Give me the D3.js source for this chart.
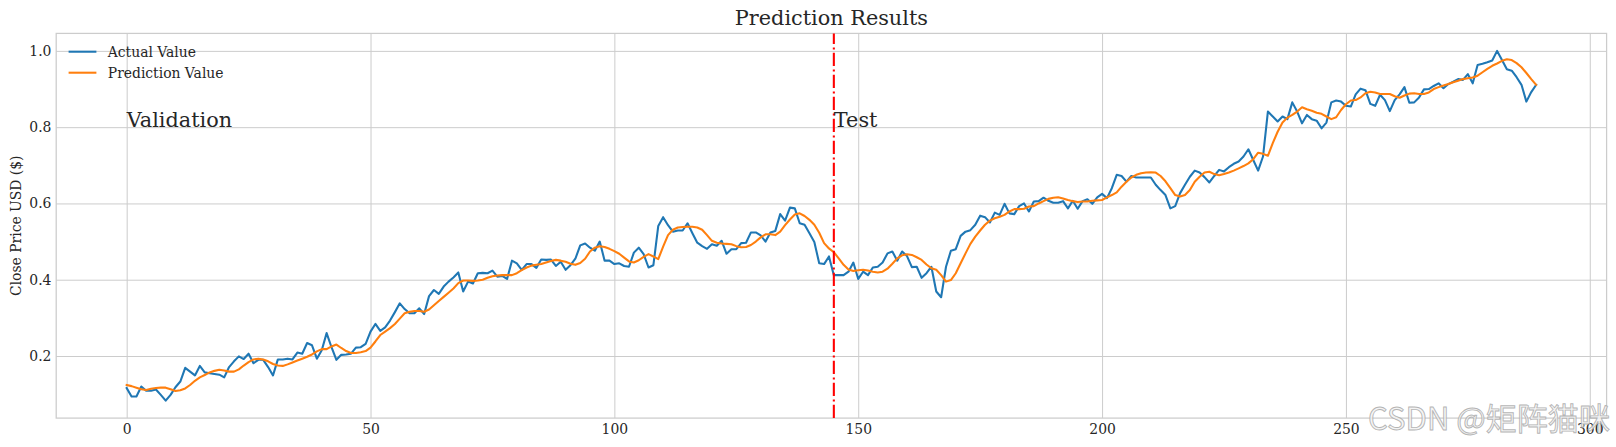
<!DOCTYPE html>
<html><head><meta charset="utf-8">
<script src="https://cdn.jsdelivr.net/npm/d3@7/dist/d3.min.js"></script>
<style>html,body{margin:0;padding:0;background:#fff;} svg{display:block;}</style>
</head><body>
<svg id="chart" width="1616" height="447"></svg>
<script>
const actual = [
0.116,0.094,0.094,0.120,0.109,0.109,0.112,0.098,0.083,0.098,
0.118,0.133,0.169,0.159,0.149,0.174,0.157,0.155,0.153,0.151,
0.144,0.171,0.186,0.199,0.192,0.206,0.181,0.190,0.190,0.171,
0.149,0.191,0.191,0.193,0.191,0.209,0.206,0.234,0.228,0.193,
0.215,0.260,0.223,0.190,0.203,0.204,0.206,0.222,0.223,0.232,
0.264,0.284,0.266,0.275,0.293,0.315,0.338,0.323,0.312,0.312,
0.325,0.310,0.357,0.373,0.363,0.382,0.395,0.406,0.419,0.369,
0.395,0.390,0.417,0.418,0.417,0.424,0.408,0.410,0.402,0.450,
0.443,0.426,0.441,0.441,0.431,0.453,0.452,0.453,0.436,0.447,
0.426,0.438,0.455,0.490,0.495,0.484,0.476,0.500,0.450,0.450,
0.441,0.443,0.436,0.434,0.471,0.484,0.467,0.432,0.438,0.541,
0.564,0.543,0.526,0.529,0.529,0.548,0.522,0.497,0.488,0.481,
0.493,0.489,0.502,0.468,0.480,0.480,0.496,0.497,0.524,0.524,
0.516,0.500,0.524,0.528,0.572,0.555,0.589,0.587,0.548,0.544,
0.522,0.499,0.443,0.441,0.461,0.412,0.412,0.412,0.421,0.445,
0.402,0.421,0.412,0.432,0.434,0.445,0.469,0.474,0.450,0.474,
0.462,0.433,0.434,0.405,0.417,0.434,0.369,0.354,0.434,0.476,
0.480,0.515,0.526,0.530,0.544,0.568,0.564,0.550,0.576,0.570,
0.599,0.574,0.572,0.593,0.600,0.579,0.605,0.606,0.615,0.607,
0.602,0.602,0.606,0.587,0.607,0.586,0.606,0.611,0.599,0.616,
0.625,0.614,0.640,0.675,0.672,0.657,0.672,0.668,0.668,0.668,
0.668,0.649,0.635,0.622,0.587,0.593,0.627,0.649,0.670,0.686,
0.681,0.669,0.655,0.672,0.688,0.684,0.695,0.704,0.710,0.723,
0.742,0.714,0.686,0.723,0.841,0.828,0.815,0.828,0.821,0.865,
0.841,0.810,0.832,0.821,0.817,0.797,0.812,0.865,0.870,0.867,
0.856,0.854,0.886,0.901,0.897,0.861,0.856,0.885,0.871,0.842,
0.871,0.886,0.905,0.864,0.865,0.878,0.899,0.900,0.908,0.915,
0.902,0.913,0.919,0.926,0.924,0.939,0.915,0.963,0.966,0.970,
0.975,1.000,0.976,0.952,0.948,0.931,0.911,0.867,0.892,0.911
];
const prediction = [
0.124,0.121,0.117,0.113,0.111,0.114,0.116,0.117,0.117,0.113,
0.108,0.110,0.115,0.124,0.135,0.144,0.150,0.157,0.161,0.164,
0.162,0.159,0.159,0.165,0.175,0.184,0.191,0.193,0.191,0.186,
0.179,0.175,0.174,0.178,0.183,0.188,0.193,0.198,0.204,0.212,
0.218,0.218,0.225,0.230,0.221,0.213,0.208,0.208,0.210,0.213,
0.222,0.238,0.255,0.264,0.273,0.284,0.298,0.312,0.316,0.318,
0.318,0.316,0.322,0.333,0.344,0.355,0.366,0.377,0.391,0.398,
0.398,0.397,0.398,0.400,0.405,0.409,0.411,0.412,0.412,0.412,
0.417,0.425,0.432,0.437,0.439,0.441,0.445,0.449,0.452,0.450,
0.447,0.442,0.439,0.444,0.455,0.474,0.484,0.488,0.486,0.481,
0.475,0.468,0.458,0.448,0.445,0.451,0.460,0.467,0.461,0.454,
0.487,0.517,0.531,0.537,0.538,0.539,0.539,0.537,0.531,0.517,
0.502,0.497,0.495,0.494,0.493,0.488,0.485,0.486,0.491,0.500,
0.511,0.519,0.519,0.517,0.526,0.543,0.558,0.571,0.574,0.567,
0.557,0.544,0.523,0.496,0.482,0.472,0.456,0.439,0.427,0.423,
0.425,0.426,0.424,0.421,0.419,0.421,0.429,0.442,0.456,0.464,
0.467,0.465,0.459,0.452,0.440,0.430,0.426,0.412,0.395,0.399,
0.417,0.443,0.469,0.494,0.513,0.529,0.544,0.555,0.561,0.565,
0.570,0.579,0.585,0.585,0.586,0.592,0.593,0.600,0.606,0.612,
0.615,0.616,0.613,0.609,0.606,0.604,0.605,0.605,0.607,0.608,
0.609,0.616,0.622,0.629,0.644,0.657,0.668,0.675,0.679,0.681,
0.682,0.681,0.672,0.658,0.640,0.622,0.618,0.622,0.635,0.657,
0.670,0.681,0.683,0.677,0.674,0.677,0.681,0.686,0.692,0.698,
0.705,0.716,0.733,0.730,0.725,0.758,0.788,0.812,0.825,0.832,
0.841,0.852,0.847,0.843,0.838,0.835,0.828,0.821,0.826,0.845,
0.860,0.870,0.871,0.878,0.889,0.893,0.891,0.887,0.887,0.887,
0.881,0.877,0.883,0.888,0.889,0.887,0.887,0.891,0.900,0.905,
0.909,0.913,0.918,0.922,0.926,0.928,0.930,0.935,0.944,0.953,
0.961,0.967,0.974,0.978,0.976,0.968,0.957,0.942,0.926,0.911
];
const xTicks = [0, 50, 100, 150, 200, 250, 300];
const yTicks = [0.2, 0.4, 0.6, 0.8, 1.0];
const testStart = 145;
const seriesNames = ["Actual Value", "Prediction Value"];
const seriesColors = ["#1f77b4", "#ff7f0e"];
const titleText = "Prediction Results";
const yLabelText = "Close Price USD ($)";
const regionLabels = [{text: "Validation", x: 0, y: 0.8}, {text: "Test", x: testStart, y: 0.8}];
const watermark = "CSDN @矩阵猫咪";

const W = 1616, H = 447;
const L = 56.2, R = 1606.6, T = 33.4, B = 418.1;
const serif = "'DejaVu Serif', serif";
const txt = "#262626";

const svg = d3.select("#chart");
const n = actual.length;
const xm = 0.05 * (n - 1);
const x = d3.scaleLinear().domain([-xm, n - 1 + xm]).range([L, R]);
const allV = actual.concat(prediction);
const [vmin, vmax] = d3.extent(allV);
const ym = 0.05 * (vmax - vmin);
const y = d3.scaleLinear().domain([vmin - ym, vmax + ym]).range([B, T]);

// grid + x ticks
const gx = svg.append("g").attr("transform", `translate(0,${B})`)
  .call(d3.axisBottom(x).tickValues(xTicks).tickFormat(d3.format("d"))
    .tickSizeInner(-(B - T)).tickSizeOuter(0).tickPadding(6.5));
gx.select(".domain").remove();
gx.selectAll("line").attr("stroke", "#cccccc").attr("stroke-width", 1);
gx.selectAll("text").attr("font-family", serif).attr("font-size", 13.9).attr("fill", txt);

const gy = svg.append("g").attr("transform", `translate(${L},0)`)
  .call(d3.axisLeft(y).tickValues(yTicks).tickFormat(d3.format(".1f"))
    .tickSizeInner(-(R - L)).tickSizeOuter(0).tickPadding(4.8));
gy.select(".domain").remove();
gy.selectAll("line").attr("stroke", "#cccccc").attr("stroke-width", 1);
gy.selectAll("text").attr("font-family", serif).attr("font-size", 13.9).attr("fill", txt);

// spines
svg.append("rect").attr("x", L).attr("y", T).attr("width", R - L).attr("height", B - T)
  .attr("fill", "none").attr("stroke", "#cccccc").attr("stroke-width", 1.25);

// series
const line = d3.line().x((d, i) => x(i)).y(d => y(d));
[actual, prediction].forEach((s, k) => {
  svg.append("path").datum(s).attr("d", line).attr("fill", "none")
    .attr("stroke", seriesColors[k]).attr("stroke-width", 2.08)
    .attr("stroke-linejoin", "round").attr("stroke-linecap", "square");
});

// test divider
svg.append("line").attr("x1", x(testStart)).attr("x2", x(testStart))
  .attr("y1", B).attr("y2", T).attr("stroke", "red").attr("stroke-width", 2.08)
  .attr("stroke-dasharray", "13.3,3.3,2.1,3.3");

// region labels
regionLabels.forEach(r => {
  svg.append("text").attr("x", x(r.x)).attr("y", y(r.y)).text(r.text)
    .attr("font-family", serif).attr("font-size", 20.8).attr("fill", txt);
});

// title
svg.append("text").attr("x", (L + R) / 2).attr("y", 25).attr("text-anchor", "middle")
  .text(titleText).attr("font-family", serif).attr("font-size", 20.8).attr("fill", txt);

// y label
svg.append("text").attr("transform", `translate(20.5,${(T + B) / 2}) rotate(-90)`)
  .attr("text-anchor", "middle").text(yLabelText)
  .attr("font-family", serif).attr("font-size", 13.9).attr("fill", txt);

// legend
seriesNames.forEach((name, k) => {
  const ly = T + 18.3 + k * 21;
  svg.append("line").attr("x1", 68.6).attr("x2", 96.4).attr("y1", ly).attr("y2", ly)
    .attr("stroke", seriesColors[k]).attr("stroke-width", 2.08);
  svg.append("text").attr("x", 107.8).attr("y", ly + 4.9).text(name)
    .attr("font-family", serif).attr("font-size", 13.9).attr("fill", txt);
});

// watermark
svg.append("text").attr("x", 1368).attr("y", 430).text(watermark)
  .attr("font-family", "'Noto Sans CJK SC', 'Noto Sans', sans-serif").attr("font-size", 31)
  .attr("textLength", 242).attr("lengthAdjust", "spacingAndGlyphs")
  .attr("fill", "#f2f2f2").attr("fill-opacity", 0.85)
  .attr("stroke", "#a8a8a8").attr("stroke-width", 0.9).attr("stroke-opacity", 0.85);
</script>
</body></html>
